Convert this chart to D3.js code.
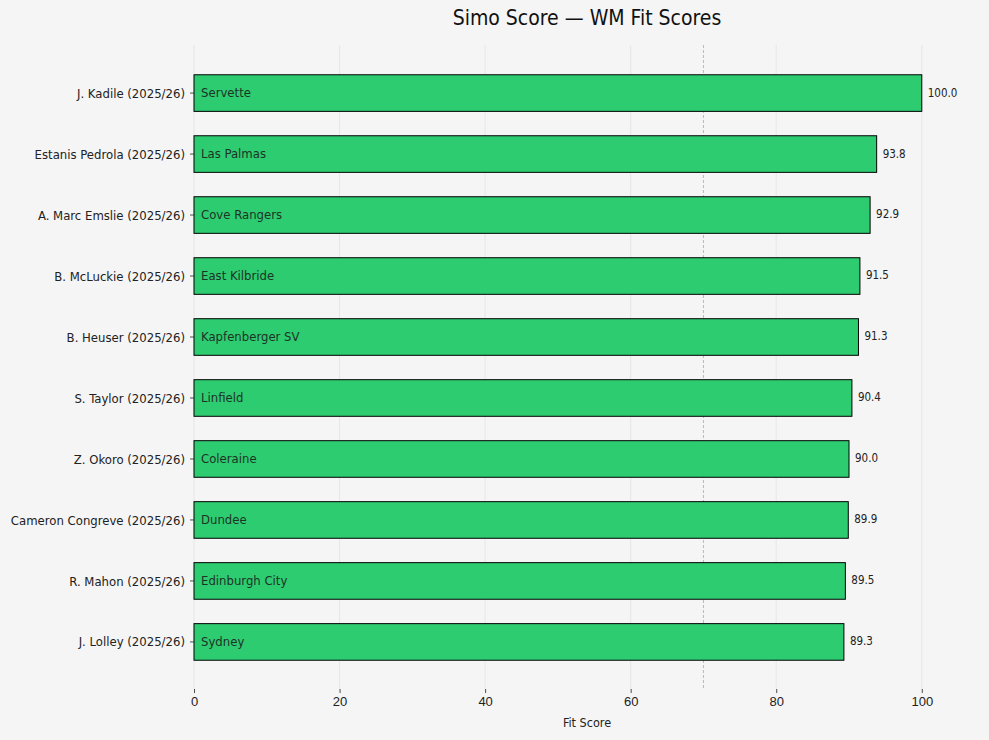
<!DOCTYPE html>
<html>
<head>
<meta charset="utf-8">
<script src="https://cdn.jsdelivr.net/npm/d3@7"></script>
<style>
  body { margin: 0; background: #f5f5f5; }
  svg { display: block; font-family: "DejaVu Sans Condensed", "Liberation Sans Narrow", sans-serif; }
</style>
</head>
<body>
<div id="chart"></div>
<script>
// Chart data, top bar first
const players = [
  'J. Kadile (2025/26)',
  'Estanis Pedrola (2025/26)',
  'A. Marc Emslie (2025/26)',
  'B. McLuckie (2025/26)',
  'B. Heuser (2025/26)',
  'S. Taylor (2025/26)',
  'Z. Okoro (2025/26)',
  'Cameron Congreve (2025/26)',
  'R. Mahon (2025/26)',
  'J. Lolley (2025/26)'
];
const clubs = [
  'Servette', 'Las Palmas', 'Cove Rangers', 'East Kilbride', 'Kapfenberger SV',
  'Linfield', 'Coleraine', 'Dundee', 'Edinburgh City', 'Sydney'
];
const scores = [100.0, 93.8, 92.9, 91.5, 91.3, 90.4, 90.0, 89.9, 89.5, 89.3];
const xTicks = [0, 20, 40, 60, 80, 100];
const xMax = 108;
const threshold = 70;

const W = 989, H = 740;
const margin = { top: 45, right: 9, bottom: 51, left: 194 };
const innerW = W - margin.left - margin.right;
const innerH = H - margin.top - margin.bottom;

const rows = players.map((p, i) => ({ player: p, club: clubs[i], score: scores[i] }));

const svg = d3.select('#chart')
  .append('svg')
  .attr('width', W)
  .attr('height', H);

svg.append('rect')
  .attr('width', W)
  .attr('height', H)
  .attr('fill', '#f5f5f5');

const g = svg.append('g')
  .attr('transform', `translate(${margin.left},${margin.top})`);

const x = d3.scaleLinear().domain([0, xMax]).range([0, innerW]);

// category axis: bars of height 0.6, 5% margins
const n = players.length;
const pad = (n - 1 + 0.6) * 0.05;
const yIdx = d3.scaleLinear()
  .domain([-0.3 - pad, n - 1 + 0.3 + pad])
  .range([0, innerH]);
const barH = yIdx(0.3) - yIdx(-0.3);

// grid
g.append('g')
  .selectAll('line')
  .data(xTicks)
  .join('line')
  .attr('x1', d => x(d))
  .attr('x2', d => x(d))
  .attr('y1', 0)
  .attr('y2', innerH)
  .attr('stroke', '#e2e2e2')
  .attr('stroke-width', 0.8);

// threshold line
g.append('line')
  .attr('x1', x(threshold))
  .attr('x2', x(threshold))
  .attr('y1', 0)
  .attr('y2', innerH)
  .attr('stroke', '#aaaaaa')
  .attr('stroke-width', 0.8)
  .attr('stroke-dasharray', '3,2');

// bars
const bar = g.append('g')
  .selectAll('g')
  .data(rows)
  .join('g')
  .attr('transform', (d, i) => `translate(0,${yIdx(i) + 0.5})`);

bar.append('rect')
  .attr('x', x(0))
  .attr('y', -barH / 2)
  .attr('width', d => x(d.score) - x(0))
  .attr('height', barH)
  .attr('fill', '#2ecc71')
  .attr('stroke', '#000')
  .attr('stroke-width', 1);

bar.append('text')
  .attr('x', x(0) + 7)
  .attr('dy', '0.3em')
  .attr('font-size', 13)
  .attr('fill', '#1d3326')
  .text(d => d.club);

bar.append('text')
  .attr('x', d => x(d.score) + 6)
  .attr('dy', '0.3em')
  .attr('font-size', 11.5)
  .attr('fill', '#222')
  .text(d => d.score.toFixed(1));

// y axis labels and ticks
const yAxis = g.append('g');
const yt = yAxis.selectAll('g')
  .data(rows)
  .join('g')
  .attr('transform', (d, i) => `translate(0,${yIdx(i) + 0.5})`);
yt.append('line')
  .attr('x1', -4)
  .attr('x2', 0)
  .attr('stroke', '#222')
  .attr('stroke-width', 0.8);
yt.append('text')
  .attr('x', -9)
  .attr('dy', '0.35em')
  .attr('text-anchor', 'end')
  .attr('font-size', 13)
  .attr('fill', '#222')
  .text(d => d.player);

// x axis
const xAxis = g.append('g')
  .attr('transform', `translate(0,${innerH})`)
  .call(d3.axisBottom(x).tickValues(xTicks).tickSize(4).tickPadding(4).tickFormat(d3.format('d')));
xAxis.select('.domain').remove();
xAxis.selectAll('line').attr('stroke', '#222').attr('stroke-width', 0.8);
xAxis.selectAll('text')
  .attr('font-size', 13)
  .attr('fill', '#222')
  .style('font-family', 'inherit');

g.append('text')
  .attr('x', innerW / 2)
  .attr('y', innerH + 38)
  .attr('text-anchor', 'middle')
  .attr('font-size', 12.5)
  .attr('fill', '#222')
  .text('Fit Score');

svg.append('text')
  .attr('x', margin.left + innerW / 2)
  .attr('y', 25)
  .attr('text-anchor', 'middle')
  .attr('font-size', 21)
  .attr('fill', '#111')
  .text('Simo Score — WM Fit Scores');
</script>
</body>
</html>
